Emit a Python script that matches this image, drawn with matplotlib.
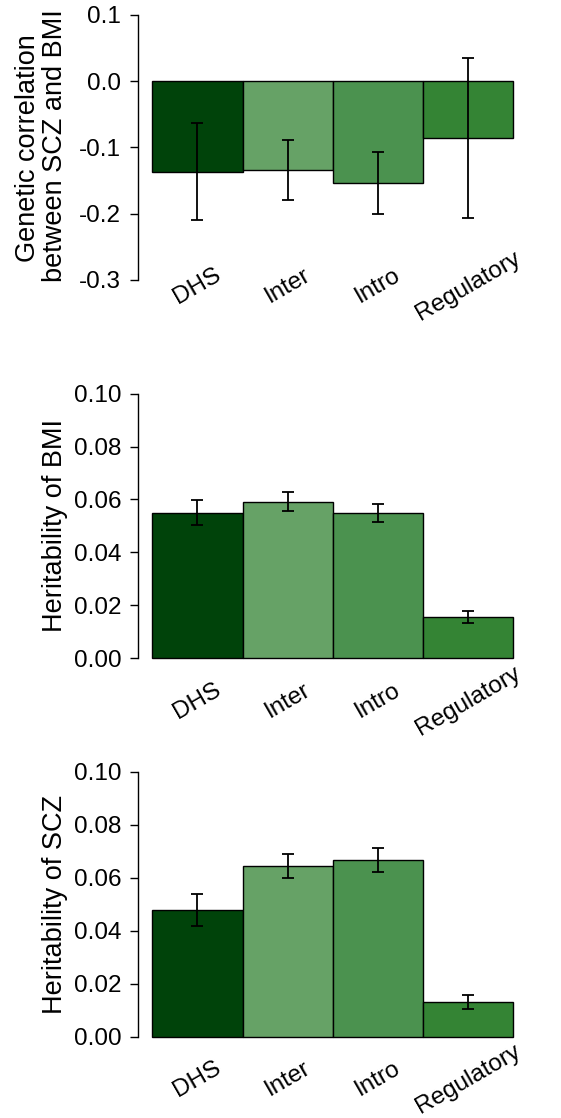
import matplotlib
matplotlib.use("Agg")
import matplotlib.pyplot as plt
import numpy as np

plt.rcParams['font.family'] = ['Liberation Sans', 'DejaVu Sans']

categories = ["DHS", "Inter", "Intro", "Regulatory"]
colors = ["#00430a", "#66a266", "#4b924f", "#348434"]

# Panel 1: genetic correlation
rg = [-0.137, -0.134, -0.153, -0.085]
rg_lo = [-0.210, -0.180, -0.200, -0.207]
rg_hi = [-0.063, -0.088, -0.107, 0.035]

# Panel 2: heritability of BMI
h2_bmi = [0.055, 0.059, 0.055, 0.0155]
h2_bmi_lo = [0.0503, 0.0556, 0.0515, 0.0134]
h2_bmi_hi = [0.0598, 0.0627, 0.0584, 0.0179]

# Panel 3: heritability of SCZ
h2_scz = [0.0478, 0.0643, 0.0667, 0.0130]
h2_scz_lo = [0.0419, 0.0599, 0.0622, 0.0104]
h2_scz_hi = [0.0539, 0.0688, 0.0711, 0.0158]

yticks1 = [-0.3, -0.2, -0.1, 0.0, 0.1]
yticklabels1 = ["-0.3", "-0.2", "-0.1", "0.0", "0.1"]
yticks2 = [0.00, 0.02, 0.04, 0.06, 0.08, 0.10]
yticklabels2 = ["0.00", "0.02", "0.04", "0.06", "0.08", "0.10"]

W, H = 561, 1118
fig = plt.figure(figsize=(W / 100, H / 100), dpi=100)

FS_TICK = 17.5
FS_X = 17.5
FS_LAB = 19.5

def make_panel(rect_px, vals, lo, hi, yticks, ylabels, ylim, label_y):
    x0, top, x1, bottom = rect_px
    ax = fig.add_axes([x0 / W, 1 - bottom / H, (x1 - x0) / W, (bottom - top) / H])
    x = np.arange(len(categories)) + 0.5
    ax.bar(x, vals, width=1.0, color=colors, edgecolor="black", linewidth=1.0, zorder=2)
    v = np.array(vals)
    yerr = np.vstack([v - np.array(lo), np.array(hi) - v])
    ax.errorbar(x, vals, yerr=yerr, fmt="none", ecolor="black", elinewidth=1.3,
                capsize=4, capthick=1.3, zorder=3)
    ax.set_xlim(-0.16, 4.16)
    ax.set_ylim(*ylim)
    for s in ["top", "right", "bottom"]:
        ax.spines[s].set_visible(False)
    ax.spines["left"].set_bounds(yticks[0], yticks[-1])
    ax.spines["left"].set_linewidth(1.0)
    ax.set_xticks([])
    ax.set_yticks(yticks)
    ax.set_yticklabels(ylabels, fontsize=FS_TICK)
    ax.tick_params(axis="y", length=6, width=1.0, pad=6)
    for xi, c in zip(x, categories):
        ax.text(xi, label_y, c, rotation=30, ha="center", va="center",
                fontsize=FS_X, clip_on=False)
    return ax

ax1 = make_panel((138, 4.4, 527.4, 290.6), rg, rg_lo, rg_hi, yticks1, yticklabels1,
                 (-0.316, 0.116), -0.3086)
ax2 = make_panel((138, 383.1, 527.4, 668.6), h2_bmi, h2_bmi_lo, h2_bmi_hi, yticks2,
                 yticklabels2, (-0.004, 0.104), -0.0162)
ax3 = make_panel((138, 761.1, 527.4, 1047.3), h2_scz, h2_scz_lo, h2_scz_hi, yticks2,
                 yticklabels2, (-0.004, 0.104), -0.016)

fig.text(28 / W, 1 - 148 / H, "Genetic correlation", rotation=90, ha="center",
         va="center", fontsize=FS_LAB)
fig.text(55 / W, 1 - 146 / H, "between SCZ and BMI", rotation=90, ha="center",
         va="center", fontsize=FS_LAB)
fig.text(55 / W, 1 - 526 / H, "Heritability of BMI", rotation=90, ha="center",
         va="center", fontsize=FS_LAB)
fig.text(55 / W, 1 - 904 / H, "Heritability of SCZ", rotation=90, ha="center",
         va="center", fontsize=FS_LAB)

fig.savefig("out.png", dpi=100, facecolor="white")
